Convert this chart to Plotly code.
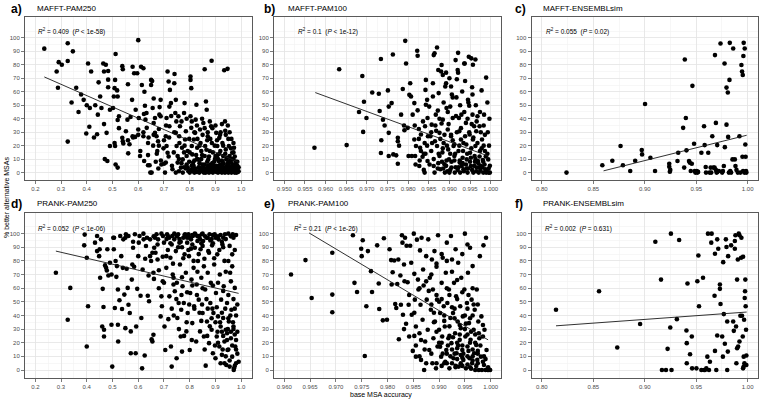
import plotly.graph_objects as go

# ---------------- data ----------------
panel_letters = ["a)", "b)", "c)", "d)", "e)", "f)"]
panel_names = ["MAFFT-PAM250", "MAFFT-PAM100", "MAFFT-ENSEMBLsim",
               "PRANK-PAM250", "PRANK-PAM100", "PRANK-ENSEMBLsim"]
r2_values = ["0.409", "0.1", "0.055", "0.052", "0.21", "0.002"]
p_values = ["&lt; 1e-58", "&lt; 1e-12", "= 0.02", "&lt; 1e-06", "&lt; 1e-26", "= 0.631"]

x_ticks_pam250 = [0.2, 0.3, 0.4, 0.5, 0.6, 0.7, 0.8, 0.9, 1.0]
x_ticks_mafft_pam100 = [0.950, 0.955, 0.960, 0.965, 0.970, 0.975, 0.980, 0.985, 0.990, 0.995, 1.000]
x_ticks_ensembl = [0.80, 0.85, 0.90, 0.95, 1.00]
x_ticks_prank_pam100 = [0.960, 0.965, 0.970, 0.975, 0.980, 0.985, 0.990, 0.995, 1.000]
y_ticks = [0, 10, 20, 30, 40, 50, 60, 70, 80, 90, 100]

mafft_pam250 = [
    (0.235, 92), (0.326, 96), (0.346, 90), (0.291, 82), (0.303, 80), (0.326, 82.8), (0.283, 75), (0.288, 63),
    (0.359, 63), (0.341, 52), (0.368, 45), (0.326, 23), (0.378, 58), (0.388, 54), (0.400, 50), (0.405, 81),
    (0.417, 75), (0.412, 48), (0.398, 29), (0.410, 34), (0.428, 26), (0.433, 50), (0.440, 28.5), (0.443, 43),
    (0.446, 67), (0.452, 56.5), (0.457, 48), (0.464, 81), (0.467, 75), (0.474, 80), (0.467, 36), (0.470, 10),
    (0.480, 8.6), (0.477, 29.5), (0.483, 75.4), (0.483, 69), (0.483, 63.4), (0.490, 19.7), (0.490, 46.7),
    (0.502, 48), (0.505, 56.5), (0.508, 62.7), (0.510, 68.8), (0.512, 88), (0.510, 19.7), (0.508, 22),
    (0.512, 6), (0.520, 3.7), (0.518, 61), (0.520, 56.5), (0.525, 41.8), (0.520, 39), (0.525, 33),
    (0.538, 79), (0.540, 76.7), (0.538, 25.8), (0.540, 23.3), (0.542, 21.6), (0.552, 30.7), (0.558, 39.3),
    (0.561, 14.3), (0.566, 21), (0.570, 41.3), (0.560, 65.6), (0.578, 78.6), (0.584, 73.7), (0.576, 54),
    (0.578, 27), (0.588, 26.5), (0.590, 46.7), (0.596, 73.7), (0.602, 40.5), (0.600, 32), (0.600, 98.3),
    (0.608, 16), (0.607, 12.3), (0.611, 78.6), (0.614, 65), (0.620, 77.4), (0.622, 43.5), (0.626, 49.6),
    (0.620, 27), (0.623, 8.6), (0.624, 60), (0.632, 44.2), (0.628, 39.3), (0.633, 33.2), (0.638, 22),
    (0.638, 13), (0.638, 5.4), (0.644, 5.4), (0.647, 0), (0.652, 0), (0.650, 68.8), (0.654, 68), (0.650, 65),
    (0.656, 48), (0.660, 55), (0.660, 36.8), (0.665, 40.5), (0.665, 29.5), (0.671, 27), (0.672, 14),
    (0.674, 16), (0.677, 23.3), (0.680, 32.4), (0.682, 43), (0.683, 48.6), (0.687, 54), (0.687, 41.8),
    (0.690, 6), (0.700, 6.6), (0.704, 0), (0.707, 7.4), (0.707, 27), (0.710, 19.7), (0.710, 40.5),
    (0.714, 75), (0.718, 67.6), (0.714, 14.7), (0.721, 34.4), (0.721, 49), (0.723, 61.4), (0.727, 51.6),
    (0.731, 5), (0.733, 2.5), (0.740, 66.3), (0.741, 73.2), (0.744, 44.2), (0.746, 54), (0.746, 29.5),
    (0.746, 0), (0.749, 19.7), (0.753, 12.3), (0.753, 7.4), (0.756, 41.8), (0.759, 27), (0.762, 34.4),
    (0.766, 3.7), (0.770, 18.4), (0.773, 0), (0.773, 9.8), (0.778, 44.2), (0.780, 51.6), (0.782, 24.6),
    (0.785, 30.7), (0.788, 12.3), (0.792, 16), (0.792, 3.7), (0.800, 0), (0.803, 71.3), (0.803, 68.8),
    (0.806, 62.7), (0.803, 41.8), (0.806, 33.2), (0.808, 19.7), (0.810, 13.5), (0.813, 7.4), (0.816, 2.5),
    (0.818, 0), (0.816, 24.6), (0.821, 29.5), (0.823, 39.3), (0.826, 50.4), (0.829, 18.4), (0.832, 9.8),
    (0.836, 3.7), (0.837, 0), (0.840, 32), (0.842, 22), (0.845, 16), (0.849, 6), (0.853, 36.8), (0.855, 0),
    (0.858, 12.3), (0.860, 19.7), (0.863, 52.8), (0.866, 46.7), (0.868, 3.7), (0.870, 27), (0.872, 9.8),
    (0.875, 0), (0.878, 16), (0.880, 6), (0.883, 34.4), (0.858, 76.7), (0.886, 22), (0.888, 2.5), (0.890, 0),
    (0.885, 83), (0.900, 12.3), (0.903, 29.5), (0.905, 5), (0.907, 19.7), (0.910, 0), (0.912, 8.6),
    (0.915, 25.8), (0.919, 16), (0.922, 3.7), (0.925, 0), (0.927, 22), (0.930, 12.3), (0.932, 6.6),
    (0.935, 2.5), (0.937, 38), (0.937, 0), (0.940, 17.2), (0.942, 9.8), (0.945, 5), (0.934, 76), (0.947, 77),
    (0.950, 0), (0.952, 19.7), (0.955, 12.3), (0.957, 3.7), (0.960, 7.4), (0.962, 0), (0.965, 14.7),
    (0.967, 2.5), (0.970, 9.8), (0.972, 18.4), (0.975, 0), (0.977, 5), (0.980, 1.2), (0.982, 0), (0.985, 2.5),
    (0.987, 0.5), (0.860, 1), (0.870, 2), (0.880, 1), (0.890, 3), (0.900, 1), (0.910, 2), (0.920, 1),
    (0.930, 3), (0.940, 1), (0.950, 2), (0.960, 1), (0.970, 3), (0.980, 2), (0.990, 1), (0.965, 4),
    (0.955, 1), (0.945, 3), (0.935, 0.5), (0.925, 2), (0.915, 4), (0.905, 0.5), (0.895, 2), (0.885, 4),
    (0.875, 1), (0.865, 3), (0.855, 2), (0.845, 1), (0.835, 4), (0.825, 0.5), (0.815, 5), (0.805, 2),
    (0.795, 1), (0.785, 3), (0.880, 25), (0.900, 35), (0.920, 30), (0.950, 25), (0.890, 15), (0.910, 10),
    (0.930, 20), (0.960, 18), (0.970, 22), (0.940, 28), (0.870, 30), (0.850, 28), (0.830, 25), (0.800, 15),
    (0.780, 20), (0.760, 22), (0.740, 30), (0.720, 26), (0.700, 24), (0.680, 20), (0.660, 28), (0.640, 26),
    (0.620, 30), (0.600, 28), (0.580, 26), (0.560, 24), (0.955, 8), (0.945, 11), (0.965, 10), (0.975, 6),
    (0.985, 8), (0.925, 9), (0.915, 14), (0.895, 8), (0.875, 12), (0.865, 17), (0.845, 10), (0.825, 13),
    (0.955, 30), (0.962, 25), (0.948, 35), (0.938, 31), (0.925, 36), (0.918, 28), (0.906, 24), (0.897, 20),
    (0.888, 33), (0.878, 38), (0.868, 24), (0.858, 33), (0.848, 40), (0.838, 20), (0.828, 35), (0.818, 30),
    (0.808, 38), (0.798, 25), (0.788, 40), (0.778, 15), (0.768, 38), (0.758, 10), (0.748, 38), (0.738, 15),
    (0.728, 42), (0.718, 12), (0.708, 35), (0.698, 18), (0.688, 9), (0.678, 3), (0.668, 8), (0.658, 20),
    (0.970, 15), (0.975, 12), (0.980, 8), (0.985, 5), (0.978, 3), (0.968, 6), (0.958, 10), (0.948, 7),
    (0.938, 14), (0.928, 8), (0.918, 6), (0.908, 13), (0.898, 10), (0.888, 7), (0.878, 4), (0.868, 8),
    (0.858, 6), (0.848, 13), (0.838, 7), (0.828, 10), (0.818, 9), (0.808, 5), (0.798, 8), (0.788, 6),
    (0.778, 4), (0.768, 7), (0.758, 1), (0.990, 4), (0.975, 3), (0.962, 2), (0.952, 5), (0.942, 2),
    (0.932, 4), (0.922, 5), (0.912, 1), (0.902, 3), (0.892, 5), (0.882, 2), (0.872, 5), (0.862, 0),
    (0.852, 4), (0.842, 3), (0.832, 1), (0.822, 3), (0.812, 1),
]

mafft_pam100 = [
    (0.9573, 18.4), (0.9633, 76.7), (0.9651, 20.4), (0.9689, 71.7), (0.9693, 52.6), (0.9691, 30.2),
    (0.9681, 45), (0.9699, 40.5), (0.9713, 59.5), (0.9729, 58.5), (0.9734, 84.3), (0.9731, 45.7),
    (0.9735, 24), (0.9734, 14.5), (0.9739, 39.3), (0.9743, 35), (0.9751, 61), (0.9753, 49), (0.9753, 29.5),
    (0.9753, 12.3), (0.9760, 51.6), (0.9763, 87.7), (0.9764, 13.5), (0.9771, 12.8), (0.9775, 25.8),
    (0.9775, 23.3), (0.9775, 6.6), (0.9778, 20), (0.9783, 43), (0.9787, 62), (0.9790, 35), (0.9791, 31.4),
    (0.9793, 97.8), (0.9795, 81), (0.9799, 33.2), (0.9801, 12.3), (0.9803, 57.7), (0.9805, 66.3),
    (0.9807, 56.5), (0.9809, 12.3), (0.9811, 43), (0.9815, 51.6), (0.9815, 24.6), (0.9817, 12.3),
    (0.9819, 19.7), (0.9822, 90.4), (0.9823, 86.7), (0.9823, 46.2), (0.9826, 32.4), (0.9827, 4.9),
    (0.9829, 18.4), (0.9831, 28.3), (0.9831, 16), (0.9835, 11.8), (0.9838, 2), (0.9840, 0), (0.9840, 22),
    (0.9841, 34.4), (0.9843, 68.8), (0.9842, 61.4), (0.9843, 50.4), (0.9846, 54), (0.9847, 40.5),
    (0.9847, 8.6), (0.9851, 49), (0.9854, 27), (0.9856, 16), (0.9857, 35.6), (0.9860, 66.3), (0.9860, 56.5),
    (0.9862, 87.2), (0.9864, 88.5), (0.9862, 4.9), (0.9864, 0), (0.9865, 23.3), (0.9867, 43), (0.9870, 92.9),
    (0.9870, 19.7), (0.9872, 46), (0.9873, 76.2), (0.9874, 59), (0.9876, 29.5), (0.9876, 12.3), (0.9878, 2.5),
    (0.9880, 75), (0.9881, 79.9), (0.9881, 36.4), (0.9884, 72.5), (0.9884, 39.3), (0.9886, 22), (0.9888, 6.1),
    (0.9889, 0), (0.9892, 74.2), (0.9892, 66.3), (0.9893, 48), (0.9896, 32), (0.9897, 17.2), (0.9899, 9.8),
    (0.9900, 0), (0.9902, 49), (0.9904, 63.9), (0.9904, 27), (0.9905, 3.7), (0.9908, 55.8), (0.9908, 40.5),
    (0.9910, 19.7), (0.9912, 12.3), (0.9913, 0), (0.9915, 83.5), (0.9917, 55.8), (0.9918, 69.3),
    (0.9920, 76.2), (0.9921, 74.2), (0.9921, 88.9), (0.9923, 40.5), (0.9924, 30.7), (0.9925, 7.4),
    (0.9926, 0), (0.9928, 24.6), (0.9929, 43), (0.9931, 60.2), (0.9933, 16), (0.9934, 2.5), (0.9936, 81),
    (0.9937, 81), (0.9938, 68), (0.9940, 36.9), (0.9941, 20.9), (0.9942, 9.8), (0.9944, 0), (0.9945, 54),
    (0.9947, 86), (0.9948, 49.6), (0.9949, 28.3), (0.9950, 14.7), (0.9952, 4.9), (0.9953, 84.8),
    (0.9955, 63.4), (0.9956, 43), (0.9957, 24.6), (0.9958, 0), (0.9960, 34.4), (0.9961, 12.3),
    (0.9963, 19.7), (0.9965, 30.7), (0.9966, 3.7), (0.9968, 41.8), (0.9969, 8.6), (0.9971, 0),
    (0.9973, 34.4), (0.9974, 16), (0.9976, 4.9), (0.9978, 61), (0.9979, 24.6), (0.9981, 9.3), (0.9982, 0),
    (0.9984, 43), (0.9986, 16), (0.9987, 2.5), (0.9989, 0), (0.9989, 70.5), (0.9992, 52), (0.9994, 9.8),
    (0.9995, 0), (0.9998, 0), (0.9885, 3), (0.9895, 1), (0.9905, 8), (0.9915, 4), (0.9920, 2), (0.9925, 9),
    (0.9930, 5), (0.9935, 1), (0.9940, 6), (0.9945, 3), (0.9950, 8), (0.9955, 2), (0.9960, 5), (0.9965, 1),
    (0.9970, 7), (0.9975, 2), (0.9980, 4), (0.9985, 6), (0.9990, 1), (0.9995, 3), (0.9988, 12), (0.9978, 18),
    (0.9968, 22), (0.9958, 26), (0.9948, 30), (0.9938, 27), (0.9928, 33), (0.9918, 30), (0.9908, 24),
    (0.9898, 36), (0.9888, 28), (0.9878, 25), (0.9868, 31), (0.9858, 22), (0.9848, 27), (0.9838, 14),
    (0.9828, 9), (0.9818, 6), (0.9932, 11), (0.9943, 14), (0.9953, 18), (0.9963, 10), (0.9973, 12),
    (0.9983, 20), (0.9922, 16), (0.9912, 21), (0.9902, 14), (0.9893, 9), (0.9883, 15), (0.9873, 7),
    (0.9936, 45), (0.9946, 52), (0.9956, 58), (0.9966, 38), (0.9976, 30), (0.9986, 28), (0.9996, 20),
    (0.9926, 50), (0.9916, 42), (0.9906, 58), (0.9896, 45), (0.9886, 52), (0.9876, 40), (0.9866, 35),
    (0.9856, 30), (0.9846, 20), (0.9836, 38), (0.9826, 25), (0.9816, 35), (0.9998, 5), (0.9992, 14),
    (0.9982, 8), (0.9972, 4), (0.9962, 8), (0.9952, 11), (0.9942, 3), (0.9932, 7), (0.9922, 4), (0.9912, 9),
    (0.9902, 2), (0.9892, 5), (0.9882, 8), (0.9872, 3), (0.9862, 10), (0.9852, 6), (0.9842, 14),
    (0.9997, 40), (0.9993, 30), (0.9983, 35), (0.9974, 45), (0.9964, 50), (0.9954, 36), (0.9944, 40),
    (0.9934, 22), (0.9924, 20), (0.9914, 14), (0.9904, 28), (0.9894, 20), (0.9884, 18), (0.9874, 14),
    (0.9963, 84), (0.9957, 80), (0.9890, 64), (0.9900, 70),
]

mafft_ensembl = [
    (0.824, 0), (0.8588, 5.4), (0.8685, 8.8), (0.8765, 19.7), (0.8788, 5.4), (0.8859, 1.2), (0.8907, 8.8),
    (0.8971, 16.7), (0.8974, 13.5), (0.9003, 50.9), (0.9055, 11), (0.9100, 1.2), (0.9238, 6.6), (0.9238, 4.4),
    (0.9244, 0.7), (0.9248, 2), (0.9318, 8.6), (0.9325, 14.7), (0.9373, 33.2), (0.9383, 3.7), (0.9389, 84),
    (0.9399, 40.5), (0.9405, 16.5), (0.9430, 8.6), (0.9437, 7.4), (0.9447, 1.2), (0.9457, 6.6),
    (0.9463, 64.4), (0.9479, 21.4), (0.9486, 1.2), (0.9492, 0), (0.9505, 1.2), (0.9511, 0), (0.9518, 0.5),
    (0.9550, 14.7), (0.9576, 34.4), (0.9582, 20.4), (0.9592, 4.2), (0.9595, 0), (0.9617, 14.7), (0.9630, 0),
    (0.9640, 3.7), (0.9646, 0), (0.9656, 27), (0.9666, 3.7), (0.9678, 3.7), (0.9682, 87.2), (0.9691, 36.9),
    (0.9691, 2), (0.9698, 0), (0.9704, 20.4), (0.9704, 0.5), (0.9720, 1.2), (0.9736, 95.8), (0.9752, 0),
    (0.9759, 1.2), (0.9768, 4.9), (0.9775, 81), (0.9778, 18.9), (0.9794, 35.6), (0.9794, 63.1),
    (0.9807, 59.5), (0.9810, 26.5), (0.9817, 0), (0.9823, 68.8), (0.9830, 1.2), (0.9826, 96.3), (0.9839, 0),
    (0.9852, 9.8), (0.9859, 92.1), (0.9875, 9.8), (0.9881, 4.9), (0.9891, 2), (0.9904, 0), (0.9920, 27),
    (0.9929, 0), (0.9939, 79.9), (0.9945, 75), (0.9949, 11.8), (0.9952, 72.5), (0.9955, 1.2), (0.9958, 86.5),
    (0.9961, 96.3), (0.9968, 0), (0.9971, 92.1), (0.9977, 20.9), (0.9980, 11.8), (0.9984, 1.2), (0.9987, 0),
]

prank_pam250 = [
    (0.280, 71.3), (0.326, 36.9), (0.336, 60.2), (0.392, 99.3), (0.390, 91.4), (0.400, 82.3), (0.405, 46.7),
    (0.400, 17.2), (0.440, 98.3), (0.432, 93.4), (0.440, 87.2), (0.448, 83.5), (0.455, 95.8), (0.450, 88.5),
    (0.452, 67.6), (0.460, 31.9), (0.467, 29.5), (0.467, 24.6), (0.465, 46.2), (0.462, 59.5), (0.471, 76.7),
    (0.475, 74.9), (0.478, 73), (0.480, 88.5), (0.484, 69.3), (0.490, 78.6), (0.496, 70), (0.496, 33.2),
    (0.499, 2.5), (0.503, 97), (0.506, 97), (0.505, 88.5), (0.509, 45.5), (0.512, 79.9), (0.517, 76.2),
    (0.515, 68.3), (0.521, 59), (0.521, 33.2), (0.522, 20.9), (0.527, 51.1), (0.530, 98.3), (0.534, 83.5),
    (0.537, 44.7), (0.540, 74.9), (0.542, 95.8), (0.546, 55.3), (0.550, 30.7), (0.552, 99.5), (0.555, 74.2),
    (0.559, 60.2), (0.562, 47.9), (0.562, 98.3), (0.567, 41.8), (0.571, 12.3), (0.571, 28.3), (0.575, 66.3),
    (0.577, 77.4), (0.580, 89.7), (0.584, 75.7), (0.587, 99.5), (0.590, 12.3), (0.592, 31.9), (0.596, 59.5),
    (0.600, 83.5), (0.602, 93.4), (0.605, 98.3), (0.609, 54.5), (0.612, 38.1), (0.615, 1.2), (0.617, 73.7),
    (0.621, 95.8), (0.625, 10.6), (0.627, 81.6), (0.630, 90.9), (0.634, 97), (0.637, 54.5), (0.640, 69.3),
    (0.642, 50.4), (0.646, 95.8), (0.646, 83.5), (0.650, 79.9), (0.652, 22.6), (0.655, 20.9), (0.659, 25.8),
    (0.659, 71.3), (0.661, 66.8), (0.662, 89.7), (0.665, 97), (0.667, 86), (0.671, 99.5), (0.675, 81),
    (0.677, 95.8), (0.680, 73.2), (0.687, 39.3), (0.690, 54), (0.692, 46.7), (0.695, 65.1), (0.696, 98.3),
    (0.700, 93.4), (0.702, 31.9), (0.705, 14.7), (0.709, 83.5), (0.709, 74.9), (0.712, 99.5), (0.715, 98.3),
    (0.717, 37.3), (0.721, 54), (0.725, 82.3), (0.727, 17.2), (0.730, 2.5), (0.732, 98.3), (0.734, 70),
    (0.737, 67.6), (0.737, 62.7), (0.740, 95.8), (0.742, 57.7), (0.746, 87.2), (0.749, 8.6), (0.752, 38.1),
    (0.755, 99.5), (0.757, 49.1), (0.760, 93.4), (0.762, 77.4), (0.765, 24.6), (0.767, 44.2), (0.770, 13.5),
    (0.772, 61.4), (0.775, 97), (0.777, 49.1), (0.780, 84.8), (0.782, 99.5), (0.785, 71.3), (0.787, 28.3),
    (0.790, 93.4), (0.792, 41.8), (0.795, 99.5), (0.797, 83.5), (0.800, 14.7), (0.802, 56.5), (0.805, 95.8),
    (0.807, 66.3), (0.810, 34.4), (0.812, 98.3), (0.815, 74.9), (0.817, 46.7), (0.820, 89.7), (0.822, 99.5),
    (0.825, 20.9), (0.827, 62.7), (0.830, 94.6), (0.832, 79.9), (0.835, 51.6), (0.837, 98.3), (0.840, 28.3),
    (0.842, 88.5), (0.845, 67.6), (0.847, 99.5), (0.850, 41.8), (0.852, 94.6), (0.855, 24.6), (0.857, 81.6),
    (0.860, 59), (0.862, 3.2), (0.865, 97), (0.867, 35.6), (0.870, 71.3), (0.872, 87.2), (0.875, 19.7),
    (0.877, 99.5), (0.880, 49.1), (0.882, 63.9), (0.885, 29.5), (0.887, 91.4), (0.890, 12.3), (0.892, 41.8),
    (0.895, 77.4), (0.897, 99.5), (0.900, 8.6), (0.902, 56.5), (0.905, 24.6), (0.907, 84.8), (0.910, 39.3),
    (0.912, 95.8), (0.915, 17.2), (0.917, 70), (0.920, 31.9), (0.922, 51.6), (0.925, 11.1), (0.927, 92.1),
    (0.930, 38.1), (0.932, 61.4), (0.935, 20.9), (0.937, 99.5), (0.940, 29.5), (0.942, 3.7), (0.945, 49.1),
    (0.947, 14.7), (0.950, 79.9), (0.952, 35.6), (0.955, 2.5), (0.957, 71.3), (0.960, 23.3), (0.962, 44.2),
    (0.965, 9.8), (0.967, 99.5), (0.970, 31.9), (0.972, 1.2), (0.975, 60.2), (0.977, 17.2), (0.980, 4.9),
    (0.965, 84.8), (0.971, 0), (0.720, 97), (0.740, 100), (0.760, 96), (0.780, 99), (0.800, 97), (0.820, 100),
    (0.840, 96), (0.860, 98), (0.880, 95), (0.900, 97), (0.920, 99), (0.940, 96), (0.960, 98), (0.730, 92),
    (0.770, 90), (0.810, 92), (0.850, 91), (0.890, 93), (0.930, 90), (0.910, 20), (0.930, 25), (0.950, 15),
    (0.970, 30), (0.920, 5), (0.940, 10), (0.960, 28), (0.980, 22), (0.900, 35), (0.950, 38), (0.890, 62),
    (0.910, 64), (0.930, 58), (0.950, 55), (0.970, 52), (0.870, 45), (0.850, 60), (0.830, 72), (0.810, 62),
    (0.790, 57), (0.770, 68), (0.750, 64), (0.730, 45), (0.700, 64), (0.680, 60), (0.960, 65), (0.940, 72),
    (0.980, 40), (0.975, 26), (0.945, 27), (0.925, 42), (0.905, 46), (0.885, 38), (0.865, 52), (0.845, 36),
    (0.550, 97), (0.580, 94), (0.620, 100), (0.660, 98), (0.690, 100), (0.710, 96), (0.750, 98), (0.790, 97),
    (0.810, 99), (0.830, 98), (0.850, 100), (0.870, 97), (0.890, 99), (0.910, 98), (0.930, 97), (0.950, 100),
    (0.970, 97), (0.980, 99), (0.725, 93), (0.765, 94), (0.805, 89), (0.845, 93), (0.885, 96), (0.925, 94),
    (0.955, 91), (0.975, 88), (0.915, 88), (0.875, 86), (0.835, 85), (0.795, 88), (0.755, 90), (0.715, 88),
    (0.675, 92), (0.655, 86), (0.695, 83), (0.735, 78), (0.775, 82), (0.815, 80), (0.855, 76), (0.895, 82),
    (0.935, 80), (0.965, 76), (0.985, 48), (0.975, 45), (0.968, 35), (0.958, 40), (0.948, 30), (0.938, 45),
    (0.928, 15), (0.918, 35), (0.908, 28), (0.898, 18), (0.888, 45), (0.878, 32), (0.868, 25), (0.858, 15),
    (0.848, 48), (0.838, 42), (0.828, 55), (0.818, 45), (0.808, 22), (0.798, 48), (0.788, 35), (0.778, 25),
    (0.768, 55), (0.758, 30), (0.748, 52), (0.738, 40), (0.935, 5), (0.955, 7), (0.975, 3), (0.985, 12),
    (0.965, 18), (0.945, 22), (0.925, 28), (0.985, 28), (0.990, 6), (0.980, 15),
]

prank_pam100 = [
    (0.9613, 70), (0.9641, 80.6), (0.9653, 52.8), (0.9693, 86), (0.9693, 55.3), (0.9693, 42.3),
    (0.9733, 98.8), (0.9736, 63.9), (0.9741, 57.2), (0.9749, 88.9), (0.9750, 83.5), (0.9752, 95.1),
    (0.9756, 10.3), (0.9759, 46.7), (0.9762, 87.2), (0.9768, 72.5), (0.9770, 57.2), (0.9780, 91.4),
    (0.9783, 63.4), (0.9784, 44.7), (0.9791, 36.4), (0.9793, 96.6), (0.9799, 36.9), (0.9804, 88.5),
    (0.9807, 80.6), (0.9808, 62.7), (0.9810, 71.7), (0.9813, 80.3), (0.9815, 48.4), (0.9817, 45.5),
    (0.9819, 63.1), (0.9821, 81), (0.9822, 22.6), (0.9825, 69.3), (0.9826, 47.9), (0.9828, 98.8),
    (0.9829, 93.4), (0.9830, 40.5), (0.9832, 77.4), (0.9833, 65.1), (0.9834, 97), (0.9836, 33.9),
    (0.9837, 91.1), (0.9839, 64.4), (0.9841, 47.9), (0.9842, 24.6), (0.9844, 91.1), (0.9846, 78.6),
    (0.9847, 40.5), (0.9849, 14), (0.9851, 100), (0.9852, 70.5), (0.9853, 51.6), (0.9855, 31.9),
    (0.9855, 9.8), (0.9857, 95.6), (0.9859, 66.3), (0.9860, 59), (0.9862, 27), (0.9863, 87.7),
    (0.9864, 47.9), (0.9865, 7.4), (0.9866, 97), (0.9868, 36.9), (0.9869, 73.7), (0.9871, 0),
    (0.9873, 20.9), (0.9875, 83.5), (0.9876, 51.6), (0.9878, 29.5), (0.9879, 95.8), (0.9881, 14.7),
    (0.9882, 67.6), (0.9884, 44.2), (0.9886, 81), (0.9887, 4.9), (0.9888, 59), (0.9889, 23.3), (0.9891, 87.2),
    (0.9892, 35.6), (0.9894, 1.2), (0.9895, 75.7), (0.9896, 51.6), (0.9897, 17.2), (0.9898, 98.8),
    (0.9900, 29.5), (0.9902, 41.8), (0.9904, 9.8), (0.9905, 63.9), (0.9906, 24.6), (0.9907, 82.3),
    (0.9909, 46.7), (0.9910, 4.9), (0.9911, 31.9), (0.9913, 71.3), (0.9914, 14.7), (0.9915, 93.4),
    (0.9916, 49.1), (0.9918, 23.3), (0.9919, 59), (0.9920, 1.2), (0.9922, 38.1), (0.9923, 98.3),
    (0.9924, 19.7), (0.9925, 81), (0.9927, 41.8), (0.9928, 8.6), (0.9929, 63.9), (0.9931, 27), (0.9932, 88.5),
    (0.9933, 54), (0.9934, 12.3), (0.9936, 35.6), (0.9937, 78.6), (0.9938, 2.5), (0.9940, 22.1),
    (0.9941, 46.7), (0.9942, 30.7), (0.9943, 67.6), (0.9945, 14.7), (0.9946, 39.3), (0.9947, 7.4),
    (0.9949, 59), (0.9950, 100), (0.9951, 24.6), (0.9952, 1.2), (0.9954, 49.1), (0.9955, 17.2),
    (0.9956, 71.3), (0.9958, 34.4), (0.9959, 8.6), (0.9960, 89.7), (0.9961, 22.1), (0.9963, 51.6),
    (0.9964, 4.9), (0.9965, 76.2), (0.9967, 29.5), (0.9968, 12.3), (0.9969, 44.2), (0.9970, 0),
    (0.9972, 18.4), (0.9973, 59), (0.9974, 7.4), (0.9976, 35.6), (0.9977, 0), (0.9978, 23.3), (0.9979, 83.5),
    (0.9981, 9.8), (0.9982, 39.3), (0.9983, 0), (0.9985, 24.6), (0.9986, 91.4), (0.9987, 3.7), (0.9988, 29.5),
    (0.9990, 0), (0.9991, 97), (0.9992, 14.7), (0.9994, 0), (0.9996, 0), (0.9999, 0), (0.9915, 5),
    (0.9925, 15), (0.9935, 20), (0.9945, 3), (0.9955, 10), (0.9965, 15), (0.9975, 5), (0.9935, 8),
    (0.9955, 26), (0.9945, 18), (0.9965, 7), (0.9970, 20), (0.9960, 2), (0.9930, 12), (0.9920, 25),
    (0.9905, 20), (0.9895, 28), (0.9885, 12), (0.9875, 5), (0.9865, 22), (0.9855, 18), (0.9940, 33),
    (0.9950, 40), (0.9960, 38), (0.9930, 45), (0.9920, 55), (0.9910, 36), (0.9900, 50), (0.9890, 42),
    (0.9880, 58), (0.9870, 62), (0.9957, 55), (0.9967, 48), (0.9977, 27), (0.9987, 10), (0.9975, 14),
    (0.9962, 28), (0.9952, 34), (0.9942, 11), (0.9932, 3), (0.9922, 10), (0.9912, 6), (0.9902, 17),
    (0.9895, 5), (0.9905, 3), (0.9915, 12), (0.9925, 5), (0.9935, 16), (0.9945, 9), (0.9955, 4),
    (0.9965, 10), (0.9975, 12), (0.9985, 6), (0.9995, 2), (0.9890, 35), (0.9900, 20), (0.9910, 40),
    (0.9920, 32), (0.9930, 38), (0.9940, 26), (0.9950, 30), (0.9960, 20), (0.9970, 26), (0.9980, 18),
    (0.9990, 8), (0.9885, 48), (0.9895, 55), (0.9905, 52), (0.9915, 60), (0.9925, 46), (0.9935, 52),
    (0.9945, 57), (0.9955, 45), (0.9965, 40), (0.9975, 48), (0.9985, 33), (0.9875, 65), (0.9885, 70),
    (0.9895, 78), (0.9905, 85), (0.9915, 80), (0.9925, 72), (0.9935, 66), (0.9945, 85), (0.9955, 92),
    (0.9965, 60), (0.9862, 60), (0.9852, 42), (0.9842, 55), (0.9832, 30), (0.9872, 15), (0.9862, 10),
    (0.9852, 25), (0.9942, 5), (0.9932, 2), (0.9962, 1), (0.9972, 3), (0.9957, 14), (0.9947, 12),
    (0.9937, 18), (0.9927, 24), (0.9917, 18), (0.9907, 12),
]

prank_ensembl = [
    (0.8138, 44.2), (0.8556, 57.7), (0.8733, 16.5), (0.8955, 33.7), (0.9103, 94.1), (0.9158, 66.3),
    (0.9167, 0), (0.9206, 0), (0.9222, 15.5), (0.9248, 31.2), (0.9254, 100), (0.9260, 0), (0.9312, 37.3),
    (0.9334, 95.3), (0.9405, 29), (0.9408, 19.7), (0.9415, 63.4), (0.9408, 4.9), (0.9440, 11.5),
    (0.9457, 24.6), (0.9460, 1.2), (0.9502, 1.2), (0.9511, 65.1), (0.9521, 84), (0.9527, 46.7), (0.9550, 0),
    (0.9566, 67.6), (0.9576, 0), (0.9585, 0), (0.9598, 1.2), (0.9608, 9.8), (0.9614, 100), (0.9624, 0),
    (0.9633, 6.1), (0.9646, 93.4), (0.9650, 100), (0.9682, 85.3), (0.9678, 54.5), (0.9682, 14), (0.9695, 0),
    (0.9704, 25.3), (0.9704, 95.8), (0.9714, 88.9), (0.9730, 62.7), (0.9730, 59.5), (0.9736, 48.4),
    (0.9752, 24.6), (0.9759, 9.8), (0.9762, 79.1), (0.9768, 41), (0.9778, 19.2), (0.9788, 95.8),
    (0.9794, 90.2), (0.9801, 35.6), (0.9801, 0), (0.9807, 13.5), (0.9810, 83.5), (0.9839, 91.4),
    (0.9859, 35.6), (0.9865, 28.7), (0.9875, 88.9), (0.9875, 94.6), (0.9881, 98.8), (0.9887, 31.9),
    (0.9890, 4.9), (0.9897, 16), (0.9897, 66.3), (0.9904, 81), (0.9907, 17.2), (0.9913, 100), (0.9920, 98.8),
    (0.9920, 20.9), (0.9929, 39.8), (0.9936, 82.3), (0.9939, 97), (0.9945, 39.8), (0.9952, 24.6),
    (0.9955, 83), (0.9955, 1.2), (0.9961, 2.5), (0.9961, 9.8), (0.9965, 36.9), (0.9968, 4.9), (0.9971, 52.8),
    (0.9974, 57.7), (0.9977, 66.3), (0.9980, 46.7), (0.9984, 29.5), (0.9987, 3.7), (0.9987, 10.6),
]

# fitted regression lines (end points)
fit_x = [[0.235, 0.990], [0.9575, 0.9995], [0.860, 0.999], [0.280, 0.990], [0.9648, 0.9995], [0.8138, 0.999]]
fit_y = [[71.0, 7.6], [59.4, 12.2], [1.3, 27.7], [87.2, 56.2], [100.5, 22.1], [32.4, 42.5]]

panel_points = [mafft_pam250, mafft_pam100, mafft_ensembl, prank_pam250, prank_pam100, prank_ensembl]
panel_xticks = [x_ticks_pam250, x_ticks_mafft_pam100, x_ticks_ensembl,
                x_ticks_pam250, x_ticks_prank_pam100, x_ticks_ensembl]

# ---------------- layout / style ----------------
W, H = 760, 403
FONT = "Liberation Sans, Arial, sans-serif"
x_ranges = [[0.16, 1.04], [0.9475, 1.0025], [0.79, 1.01], [0.16, 1.04], [0.958, 1.002], [0.79, 1.01]]
x_formats = [".1f", ".3f", ".2f", ".1f", ".3f", ".2f"]
x_minor = [0.05, 0.0025, 0.025, 0.05, 0.0025, 0.025]
col_px = [(25, 251.5), (274, 501), (531.5, 758)]
row_px = [(17, 180), (212.5, 377.5)]
letter_x = [9, 262, 513]
name_x = [35, 286, 541]
r2_x = [[36, 296, 544], [36, 292, 543]]
title_y = [9, 203.5]
r2_y = [31.5, 228]

fig = go.Figure()
layout = dict(
    width=W, height=H, margin=dict(l=0, r=0, t=0, b=0, pad=0),
    paper_bgcolor="white", plot_bgcolor="white", showlegend=False,
    font=dict(family=FONT, color="#4D4D4D"),
)
annotations = []
minor_y = [-5] + [5 + 10 * i for i in range(11)]

for i in range(6):
    r, c = divmod(i, 3)
    sfx = "" if i == 0 else str(i + 1)
    pts = panel_points[i]
    xs = [p[0] for p in pts]
    ys = [p[1] for p in pts]
    fig.add_trace(go.Scatter(
        x=xs, y=ys, mode="markers", xaxis="x" + sfx, yaxis="y" + sfx,
        marker=dict(size=4.6, color="black", line=dict(width=0)), hoverinfo="skip"))
    fig.add_trace(go.Scatter(
        x=fit_x[i], y=fit_y[i], mode="lines", xaxis="x" + sfx, yaxis="y" + sfx,
        line=dict(color="#1a1a1a", width=0.9), hoverinfo="skip"))
    x0, x1 = col_px[c]
    y0, y1 = row_px[r]
    common = dict(
        showline=True, mirror=True, linecolor="#5a5a5a", linewidth=1,
        ticks="outside", ticklen=3, tickwidth=0.8, tickcolor="#5a5a5a",
        showgrid=True, gridcolor="#E3E3E3", gridwidth=0.8, zeroline=False,
        automargin=False,
        tickfont=dict(size=6, color="#4D4D4D", family=FONT),
    )
    layout["xaxis" + sfx] = dict(
        common, domain=[x0 / W, x1 / W], range=x_ranges[i], anchor="y" + sfx,
        tickvals=panel_xticks[i], tickformat=x_formats[i],
        minor=dict(showgrid=True, gridcolor="#F2F2F2", gridwidth=0.6, dtick=x_minor[i], tick0=0, ticks=""),
    )
    layout["yaxis" + sfx] = dict(
        common, domain=[1 - y1 / H, 1 - y0 / H], range=[-5.5, 115.5], anchor="x" + sfx,
        tickvals=y_ticks,
        minor=dict(showgrid=True, gridcolor="#F2F2F2", gridwidth=0.6, tickvals=minor_y, ticks=""),
    )
    annotations.append(dict(
        text="<b>" + panel_letters[i] + "</b>", x=letter_x[c] / W, y=1 - title_y[r] / H,
        xref="paper", yref="paper", xanchor="left", yanchor="middle", showarrow=False,
        font=dict(size=12, color="black", family=FONT)))
    annotations.append(dict(
        text=panel_names[i], x=name_x[c] / W, y=1 - title_y[r] / H,
        xref="paper", yref="paper", xanchor="left", yanchor="middle", showarrow=False,
        font=dict(size=8, color="black", family=FONT)))
    annotations.append(dict(
        text="<i>R</i><sup>2</sup> = " + r2_values[i] + "&nbsp;&nbsp;(<i>P</i> " + p_values[i] + ")",
        x=r2_x[r][c] / W, y=1 - r2_y[r] / H,
        xref="paper", yref="paper", xanchor="left", yanchor="middle", showarrow=False,
        font=dict(size=6.5, color="black", family=FONT)))

annotations.append(dict(
    text="% better alternative MSAs", x=6 / W, y=1 - 198 / H, xref="paper", yref="paper",
    textangle=-90, showarrow=False, xanchor="center", yanchor="middle",
    font=dict(size=7, color="black", family=FONT)))
annotations.append(dict(
    text="base MSA accuracy", x=381 / W, y=1 - 395 / H, xref="paper", yref="paper",
    showarrow=False, xanchor="center", yanchor="middle",
    font=dict(size=7, color="black", family=FONT)))
layout["annotations"] = annotations
fig.update_layout(**layout)
fig.write_html(
    "out.html",
    config={"displayModeBar": False, "staticPlot": True},
    post_script="document.body.style.margin='0px';document.body.style.padding='0px';",
)
